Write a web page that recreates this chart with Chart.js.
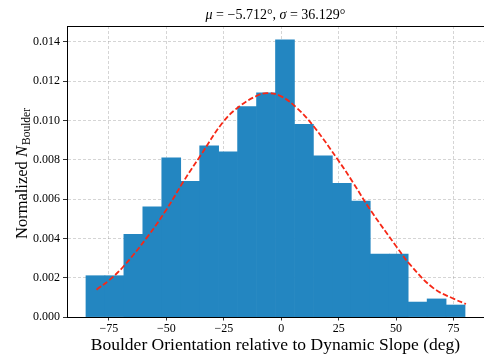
<!DOCTYPE html>
<html>
<head>
<meta charset="utf-8">
<script src="https://cdn.jsdelivr.net/npm/chart.js@4/dist/chart.umd.min.js"></script>
<style>
  html, body { margin: 0; padding: 0; background: #fff; }
  #wrap { width: 484px; height: 356px; }
</style>
</head>
<body>
<div id="wrap"><canvas id="myChart" width="484" height="356"></canvas></div>
<script>
const SERIF = '"Liberation Serif", "Times New Roman", serif';

// histogram bins (centers, deg) and normalized counts
const binCenters = [-80.875, -72.625, -64.375, -56.125, -47.875, -39.625, -31.375, -23.125, -14.875, -6.625,
                    1.625, 9.875, 18.125, 26.375, 34.625, 42.875, 51.125, 59.375, 67.625, 75.875];
const binHeights = [0.0021, 0.0021, 0.0042, 0.0056, 0.0081, 0.0069, 0.0087, 0.0084, 0.0107, 0.0114,
                    0.0141, 0.0098, 0.0082, 0.0068, 0.0059, 0.0032, 0.0032, 0.00076, 0.00092, 0.00061];

// fitted normal curve
const fitX = [-80.4, -75, -68.6, -58.1, -50, -42.5, -35.2, -25.1, -17.8, -10.6, -6.2,
              0, 6.8, 14.1, 25.1, 31.4, 38.7, 50.1, 56.1, 66.2, 75.2, 80.4];
const fitY = [0.00139, 0.00186, 0.00258, 0.0041, 0.00546, 0.0069, 0.0082, 0.00995, 0.01075, 0.01125, 0.01139,
              0.01122, 0.01063, 0.0097, 0.00792, 0.00681, 0.00546, 0.00359, 0.00266, 0.00147, 0.00092, 0.00066];

const xTicks = [-75, -50, -25, 0, 25, 50, 75];
const yTicks = [0, 0.002, 0.004, 0.006, 0.008, 0.010, 0.012, 0.014];

const titleParts = [['μ', true], [' = −5.712°, ', false], ['σ', true], [' = 36.129°', false]];

// draws the title and the y label (italic pieces + subscript)
const textPlugin = {
    id: 'texts',
    afterDraw(chart) {
        const ctx = chart.ctx;
        const area = chart.chartArea;
        ctx.save();
        ctx.fillStyle = '#000';
        ctx.textBaseline = 'alphabetic';

        // title
        const tf = 14;
        let w = 0;
        titleParts.forEach(([t, it]) => {
            ctx.font = (it ? 'italic ' : '') + tf + 'px ' + SERIF;
            w += ctx.measureText(t).width;
        });
        let x = (area.left + area.right) / 2 - w / 2;
        titleParts.forEach(([t, it]) => {
            ctx.font = (it ? 'italic ' : '') + tf + 'px ' + SERIF;
            ctx.fillText(t, x, area.top - 7);
            x += ctx.measureText(t).width;
        });

        // y label
        const lf = 16.5, sf = 11.5;
        ctx.translate(26.5, (area.top + area.bottom) / 2 + 2);
        ctx.rotate(-Math.PI / 2);
        ctx.font = lf + 'px ' + SERIF;
        const w1 = ctx.measureText('Normalized ').width;
        ctx.font = 'italic ' + lf + 'px ' + SERIF;
        const w2 = ctx.measureText('N').width;
        ctx.font = sf + 'px ' + SERIF;
        const w3 = ctx.measureText('Boulder').width;
        let p = -(w1 + w2 + w3 + 1) / 2;
        ctx.font = lf + 'px ' + SERIF;
        ctx.fillText('Normalized ', p, 0);
        p += w1;
        ctx.font = 'italic ' + lf + 'px ' + SERIF;
        ctx.fillText('N', p, 0);
        p += w2 + 1;
        ctx.font = sf + 'px ' + SERIF;
        ctx.fillText('Boulder', p, 3.5);
        ctx.restore();
    }
};

const gridColor = 'rgba(150, 150, 150, 0.5)';

const config = {
    type: 'bar',
    data: {
        datasets: [
            {
                type: 'line',
                label: 'fit',
                data: fitX.map((v, i) => ({x: v, y: fitY[i]})),
                borderColor: 'rgb(246, 40, 22)',
                borderWidth: 1.8,
                borderDash: [5.5, 2.4],
                pointRadius: 0,
                tension: 0.4,
                fill: false,
                order: 0,
            },
            {
                label: 'hist',
                data: binCenters.map((v, i) => ({x: v, y: binHeights[i]})),
                backgroundColor: '#2386c1',
                borderWidth: 0,
                barPercentage: 1,
                categoryPercentage: 1,
                grouped: false,
                order: 1,
            }
        ]
    },
    options: {
        responsive: false,
        animation: false,
        layout: {padding: {left: 0, right: 0, top: 26, bottom: 0}},
        plugins: {
            legend: {display: false},
            title: {display: false},
            tooltip: {enabled: false},
        },
        scales: {
            x: {
                type: 'linear',
                position: 'bottom',
                min: -93.25,
                max: 88.25,
                offset: false,
                z: 1,
                afterBuildTicks: s => { s.ticks = xTicks.map(v => ({value: v})); },
                afterFit: s => { s.height = 39; },
                grid: {
                    offset: false,
                    color: gridColor,
                    lineWidth: 0.8,
                    tickLength: 3.5,
                    tickColor: '#000',
                    tickBorderDash: [],
                    tickWidth: 0.8,
                },
                border: {display: true, color: '#000', width: 1, dash: [3, 2]},
                ticks: {
                    color: '#000',
                    font: {family: SERIF, size: 12},
                    padding: 1,
                    maxRotation: 0,
                    callback: v => String(v).replace('-', '\u2212'),
                },
                title: {
                    display: true,
                    text: 'Boulder Orientation relative to Dynamic Slope (deg)',
                    color: '#000',
                    font: {family: SERIF, size: 17.5},
                    padding: {top: 0, bottom: 0},
                },
            },
            x2: {
                type: 'linear',
                position: 'top',
                min: -93.25,
                max: 88.25,
                afterFit: s => { s.height = 0; },
                grid: {display: false, drawTicks: false},
                border: {display: true, color: '#000', width: 1},
                ticks: {display: false},
            },
            y: {
                type: 'linear',
                min: 0,
                max: 0.0148,
                z: 1,
                afterBuildTicks: s => { s.ticks = yTicks.map(v => ({value: v})); },
                afterFit: s => { s.width = 67; },
                grid: {
                    color: gridColor,
                    lineWidth: 0.8,
                    tickLength: 4,
                    tickColor: '#000',
                    tickBorderDash: [],
                    tickWidth: 0.8,
                },
                border: {display: true, color: '#000', width: 1, dash: [3, 2]},
                ticks: {
                    color: '#000',
                    font: {family: SERIF, size: 12},
                    padding: 3,
                    callback: v => v.toFixed(3),
                },
            },
        }
    },
    plugins: [textPlugin],
};

const myChart = new Chart(document.getElementById('myChart').getContext('2d'), config);
</script>
</body>
</html>
